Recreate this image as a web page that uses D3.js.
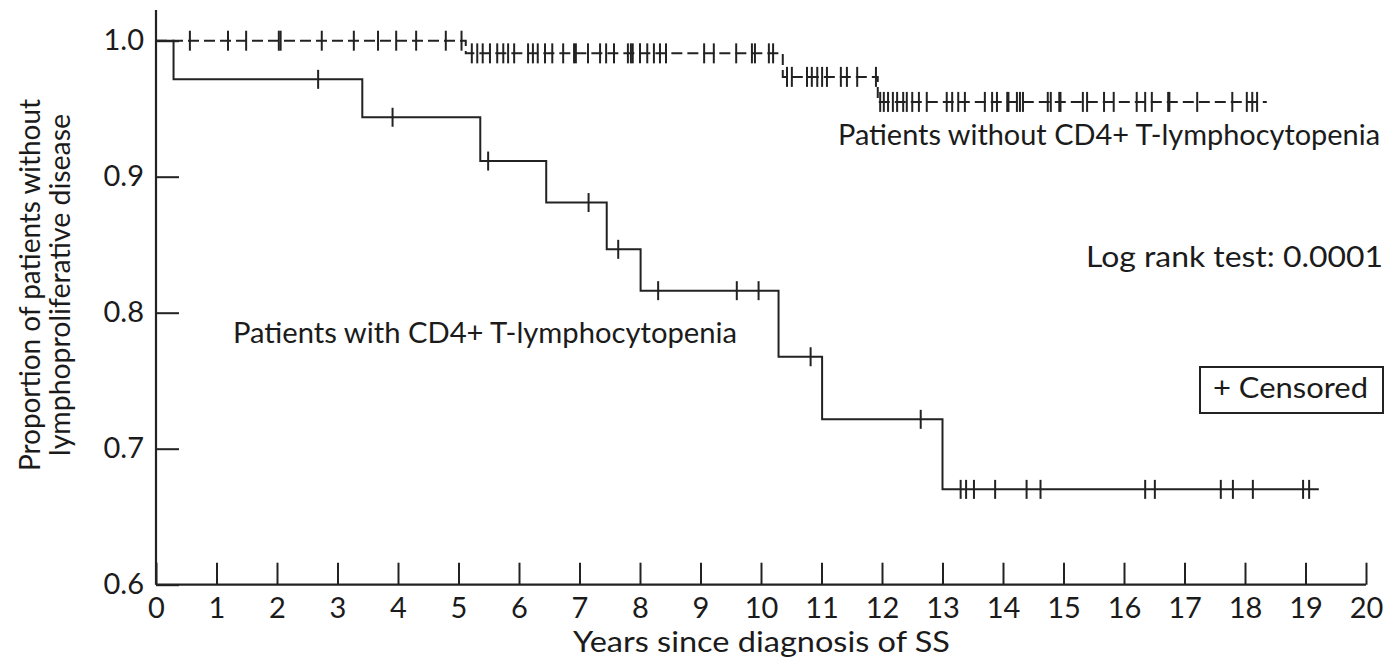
<!DOCTYPE html>
<html>
<head>
<meta charset="utf-8">
<script src="https://cdn.jsdelivr.net/npm/d3@7"></script>
<style>
  html, body { margin: 0; padding: 0; background: #fff; }
  svg { display: block; }
  text { font-family: Lato, "Open Sans", sans-serif; fill: #1b1b1b; }
</style>
</head>
<body>
<svg id="chart" width="1388" height="663"></svg>
<script>
// Kaplan–Meier estimates: years since diagnosis of SS
// Group with CD4+ T-lymphocytopenia: step times and survival levels
const withTimes  = [0, 0.29, 3.41, 5.36, 6.45, 7.45, 8.01, 10.29, 11.01, 13.00];
const withLevels = [1.0, 0.9716, 0.9437, 0.9115, 0.881, 0.8466, 0.8162, 0.7676, 0.7216, 0.6701];
const withEnd = 19.22;
const withCensored = [2.68, 3.91, 5.49, 7.15, 7.64, 8.30, 9.60, 9.96, 10.82, 12.64,
  13.30, 13.39, 13.52, 13.87, 14.39, 14.62, 16.35, 16.51, 17.60, 17.80, 18.13, 18.96, 19.06];

// Group without CD4+ T-lymphocytopenia
const withoutTimes  = [0, 5.12, 10.36, 11.93];
const withoutLevels = [1.0, 0.9907, 0.9734, 0.955];
const withoutEnd = 18.36;
const withoutCensored = [0.56, 1.19, 1.49, 2.03, 2.06, 2.74, 3.27, 3.67, 3.97, 4.30, 4.79, 5.05,
  5.22, 5.31, 5.40, 5.52, 5.64, 5.74, 5.82, 5.92, 6.15, 6.23, 6.31, 6.43, 6.55, 6.73, 6.91, 6.94,
  7.14, 7.34, 7.44, 7.57, 7.80, 7.85, 7.88, 8.00, 8.12, 8.23, 8.33, 8.43, 9.06, 9.22, 9.59, 9.85,
  9.90, 10.13, 10.20,
  10.43, 10.51, 10.76, 10.84, 10.93, 11.01, 11.09, 11.32, 11.42, 11.59, 11.90,
  11.97, 12.03, 12.10, 12.18, 12.25, 12.35, 12.41, 12.50, 12.61, 12.74, 13.07, 13.16, 13.26, 13.37,
  13.70, 13.82, 13.90, 14.07, 14.09, 14.23, 14.28, 14.33, 14.74, 14.79, 14.93, 14.95, 15.32, 15.39,
  15.67, 15.83, 16.21, 16.35, 16.46, 16.73, 16.75, 17.21, 17.79, 18.03, 18.12, 18.20];

const xTicks = d3.range(0, 21, 1);
const yTicks = [0.6, 0.7, 0.8, 0.9, 1.0];

const svg = d3.select("#chart");
const ink = "#222";

const x = d3.scaleLinear().domain([0, 20]).range([156, 1366]);
const y = d3.scaleLinear().domain([0.6, 1.0]).range([584.7, 40.7]);

// Axes: ticks point inward
const xAxis = d3.axisBottom(x).tickValues(xTicks).tickSize(-22).tickPadding(13)
  .tickFormat(d3.format("d"));
const gx = svg.append("g").attr("transform", `translate(0,${y(0.6)})`).call(xAxis);
gx.select(".domain").remove();
gx.selectAll(".tick line").attr("stroke", ink).attr("stroke-width", 2);
gx.selectAll(".tick text").attr("font-size", 29).attr("fill", "#1b1b1b").attr("font-family", "Lato");

const yAxis = d3.axisLeft(y).tickValues(yTicks).tickSize(-23).tickPadding(12)
  .tickFormat(d3.format(".1f"));
const gy = svg.append("g").attr("transform", `translate(${x(0)},0)`).call(yAxis);
gy.select(".domain").remove();
gy.selectAll(".tick line").attr("stroke", ink).attr("stroke-width", 2);
gy.selectAll(".tick text").attr("font-size", 29).attr("fill", "#1b1b1b").attr("font-family", "Lato");

// axis lines
svg.append("line").attr("x1", x(0)).attr("x2", x(20)).attr("y1", y(0.6)).attr("y2", y(0.6))
  .attr("stroke", ink).attr("stroke-width", 2.2);
svg.append("line").attr("x1", x(0)).attr("x2", x(0)).attr("y1", y(0.6)).attr("y2", 10)
  .attr("stroke", ink).attr("stroke-width", 2.2);

// step-function path builder
function stepPoints(times, levels, end) {
  const pts = [];
  times.forEach((t, i) => {
    pts.push([t, levels[i]]);
    const next = i + 1 < times.length ? times[i + 1] : end;
    pts.push([next, levels[i]]);
  });
  return pts;
}
const line = d3.line().x(d => x(d[0])).y(d => y(d[1]));

function levelAt(times, levels, t) {
  let v = levels[0];
  times.forEach((tt, i) => { if (tt <= t) v = levels[i]; });
  return v;
}

// curve without lymphocytopenia (broken line)
svg.append("path")
  .attr("d", line(stepPoints(withoutTimes, withoutLevels, withoutEnd)))
  .attr("fill", "none").attr("stroke", ink).attr("stroke-width", 2)
  .attr("stroke-dasharray", "11,5");

// curve with lymphocytopenia
svg.append("path")
  .attr("d", line(stepPoints(withTimes, withLevels, withEnd)))
  .attr("fill", "none").attr("stroke", ink).attr("stroke-width", 2);

// censor marks
function censorMarks(ts, times, levels, h) {
  svg.append("g").selectAll("line").data(ts).join("line")
    .attr("x1", d => x(d)).attr("x2", d => x(d))
    .attr("y1", d => y(levelAt(times, levels, d)) - h / 2)
    .attr("y2", d => y(levelAt(times, levels, d)) + h / 2)
    .attr("stroke", ink).attr("stroke-width", 2);
}
censorMarks(withoutCensored, withoutTimes, withoutLevels, 20);
censorMarks(withCensored, withTimes, withLevels, 19);

// labels
function label(txt, xx, yy, len, size) {
  const t = svg.append("text").attr("x", xx).attr("y", yy).attr("font-size", size || 29).text(txt);
  if (len) t.attr("textLength", len).attr("lengthAdjust", "spacingAndGlyphs");
  return t;
}
label("Patients without CD4+ T-lymphocytopenia", 838, 145, 542);
label("Patients with CD4+ T-lymphocytopenia", 233, 343, 504);
label("Log rank test: 0.0001", 1086, 267, 297);
label("Years since diagnosis of SS", 573, 652, 377);

// legend
svg.append("rect").attr("x", 1200).attr("y", 367).attr("width", 183).attr("height", 46)
  .attr("fill", "none").attr("stroke", ink).attr("stroke-width", 2);
label("+ Censored", 1213, 398, 155);

// y axis title
svg.append("text").attr("transform", "translate(40,285) rotate(-90)")
  .attr("text-anchor", "middle").attr("font-size", 29)
  .attr("textLength", 372).attr("lengthAdjust", "spacingAndGlyphs")
  .text("Proportion of patients without");
svg.append("text").attr("transform", "translate(70,285) rotate(-90)")
  .attr("text-anchor", "middle").attr("font-size", 29)
  .attr("textLength", 342).attr("lengthAdjust", "spacingAndGlyphs")
  .text("lymphoproliferative disease");
</script>
</body>
</html>
